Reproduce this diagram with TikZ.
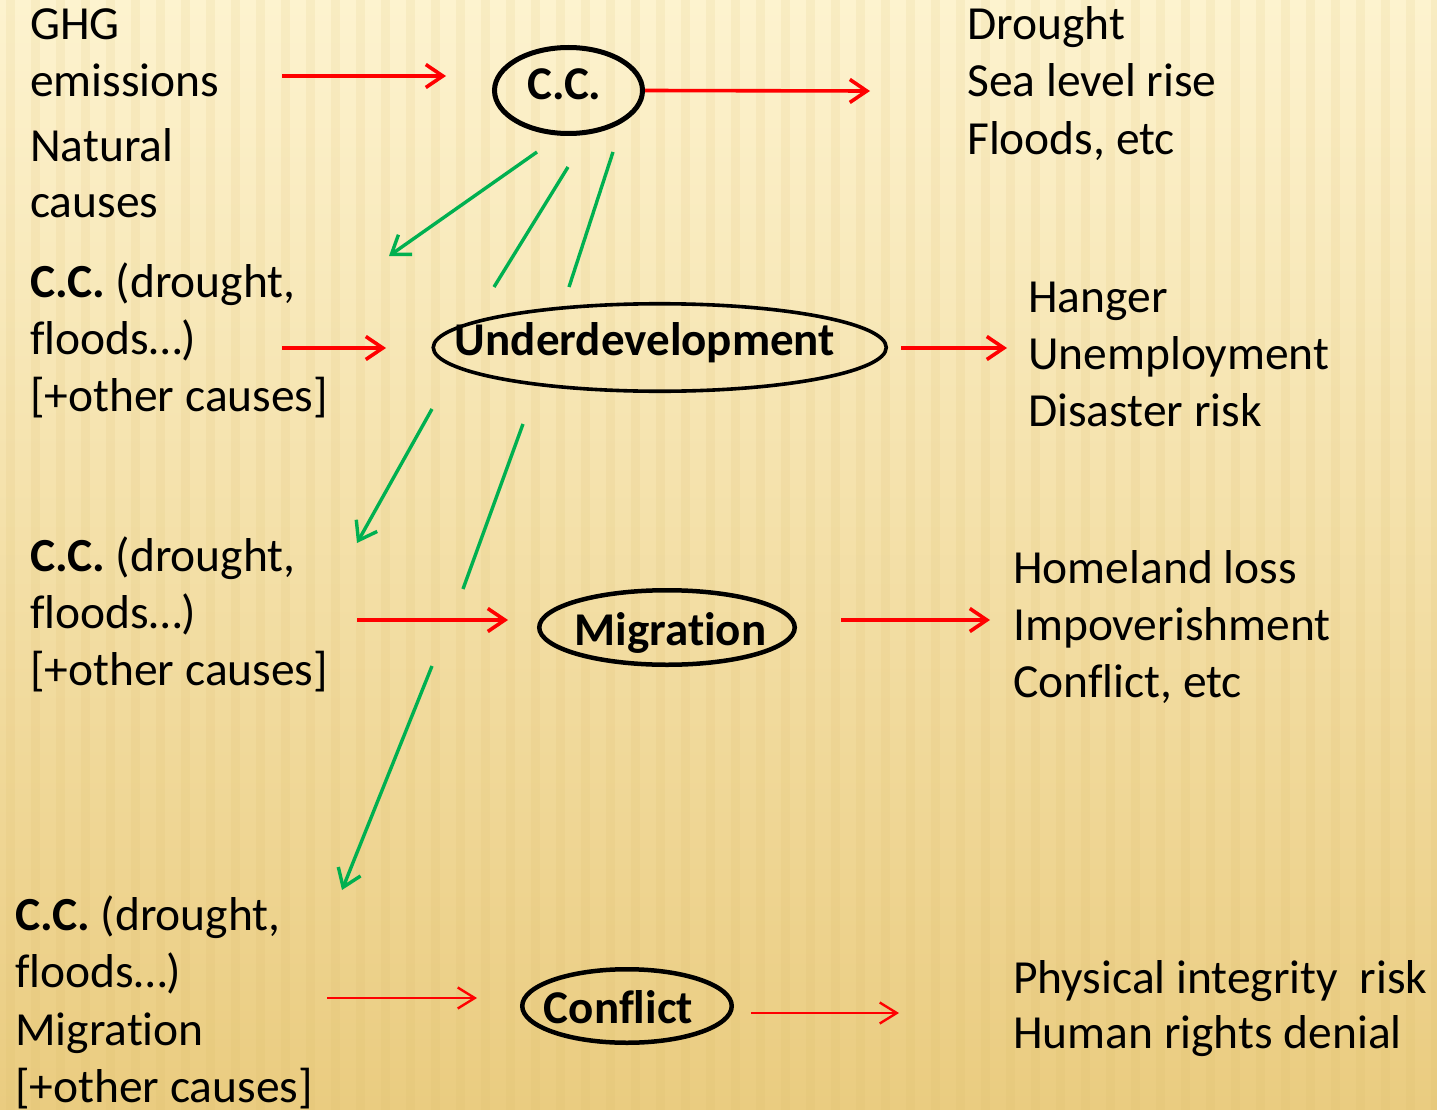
\documentclass[tikz,border=0pt]{standalone}
\usepackage{fontspec}
\setmainfont{Carlito}[Ligatures=NoCommon]
\usetikzlibrary{arrows.meta,shapes.geometric}
\definecolor{redarr}{RGB}{255,0,0}
\definecolor{grnarr}{RGB}{0,176,80}
\definecolor{bgtop}{RGB}{253,243,207}
\definecolor{bgmid}{RGB}{249,233,182}
\definecolor{bgbot}{RGB}{234,204,128}
\definecolor{stripe}{RGB}{215,180,95}
\begin{document}
\begin{tikzpicture}[x=1pt,y=-1pt,
  txt/.style={anchor=base west, inner sep=0pt, font=\fontsize{47.5}{57}\selectfont},
  ell/.style={draw=black, ellipse, inner sep=0pt, text depth=0pt, font=\bfseries\fontsize{47}{57}\selectfont},
  redarrow/.style={draw=redarr, line width=3.6pt, -{Straight Barb[length=17pt,width=23pt]}},
  thinred/.style={draw=redarr, line width=2.4pt, -{Straight Barb[length=17pt,width=21pt]}},
  grnline/.style={draw=grnarr, line width=3.4pt},
  grnarrow/.style={grnline, -{Straight Barb[length=17pt,width=24pt]}}]
% background
\useasboundingbox (0,0) rectangle (1437,1110);
\shade[top color=bgtop, middle color=bgmid, bottom color=bgbot] (0,0) rectangle (1437,1110);
\foreach \i in {0,...,58} \fill[stripe, opacity=0.11] ({\i*25+6},0) rectangle ++(9,1110);

% ellipse nodes
\node[ell, minimum width=148pt, minimum height=86pt, line width=5pt, text height=19pt] (cc) at (568.5,90.5) {\makebox[0pt]{C.C.\hspace*{8pt}}};
\node[ell, minimum width=453pt, minimum height=87.5pt, line width=3.6pt, text height=15pt] (ud) at (659.75,347.5) {\makebox[0pt]{Underdevelopment\hspace*{29.5pt}}};
\node[ell, minimum width=255.5pt, minimum height=74.5pt, line width=4.5pt, text height=35pt] (mig) at (667,627.5) {\makebox[0pt]{\hspace*{7pt}Migration}};
\node[ell, minimum width=209.5pt, minimum height=73.5pt, line width=4.5pt, text height=34pt] (con) at (627,1006) {\makebox[0pt]{Conflict\hspace*{17pt}}};

% left texts
\node[txt] (l1a) at (30,40) {GHG};
\node[txt] (l1b) at (30,97) {emissions};
\node[txt] (l2a) at (30,162) {Natural};
\node[txt] (l2b) at (30,218) {causes};
\node[txt] (l3a) at (30,297) {\textbf{C.C.} (drought,};
\node[txt] (l3b) at (30,354) {floods…)};
\node[txt] (l3c) at (30,411) {[+other causes]};
\node[txt] (l4a) at (30,571) {\textbf{C.C.} (drought,};
\node[txt] (l4b) at (30,628) {floods…)};
\node[txt] (l4c) at (30,685) {[+other causes]};
\node[txt] (l5a) at (15,930) {\textbf{C.C.} (drought,};
\node[txt] (l5b) at (15,987) {floods…)};
\node[txt] (l5c) at (15,1045) {Migration};
\node[txt] (l5d) at (15,1102) {[+other causes]};

% right texts
\node[txt] (r1a) at (967,40) {Drought};
\node[txt] (r1b) at (967,97) {Sea level rise};
\node[txt] (r1c) at (967,155) {Floods, etc};
\node[txt] (r2a) at (1028,312) {Hanger};
\node[txt] (r2b) at (1028,369) {Unemployment};
\node[txt] (r2c) at (1028,426) {Disaster risk};
\node[txt] (r3a) at (1013,583) {Homeland loss};
\node[txt] (r3b) at (1013,640) {Impoverishment};
\node[txt] (r3c) at (1013,697) {Conflict, etc};
\node[txt] (r4a) at (1013,993) {Physical integrity\ \ risk};
\node[txt] (r4b) at (1013,1048) {Human rights denial};

% connector end points
\coordinate (a1s) at (282,76);  \coordinate (a1e) at (446,76);
\coordinate (a2e) at (870,91);
\coordinate (a3s) at (282,348); \coordinate (a3e) at (386,348);
\coordinate (a4s) at (901,348); \coordinate (a4e) at (1007,348);
\coordinate (a5s) at (357,620); \coordinate (a5e) at (508,620);
\coordinate (a6s) at (841,620); \coordinate (a6e) at (990,620);
\coordinate (a7s) at (327,998); \coordinate (a7e) at (477,998);
\coordinate (a8s) at (751,1013); \coordinate (a8e) at (899,1013);
\coordinate (g1s) at (537,152); \coordinate (g1e) at (389,256);
\coordinate (g2s) at (568,167); \coordinate (g2e) at (494,287);
\coordinate (g3s) at (613,152); \coordinate (g3e) at (569,287);
\coordinate (g4s) at (432,409); \coordinate (g4e) at (357,543);
\coordinate (g5s) at (523,424); \coordinate (g5e) at (463,589);
\coordinate (g6s) at (432,666); \coordinate (g6e) at (342,890);

% red arrows
\draw[redarrow] (a1s) -- (a1e);
\draw[redarrow] (cc.east) -- (a2e);
\draw[redarrow] (a3s) -- (a3e);
\draw[redarrow] (a4s) -- (a4e);
\draw[redarrow] (a5s) -- (a5e);
\draw[redarrow] (a6s) -- (a6e);
\draw[thinred] (a7s) -- (a7e);
\draw[thinred] (a8s) -- (a8e);

% green lines
\draw[grnarrow] (g1s) -- (g1e);
\draw[grnline] (g2s) -- (g2e);
\draw[grnline] (g3s) -- (g3e);
\draw[grnarrow] (g4s) -- (g4e);
\draw[grnline] (g5s) -- (g5e);
\draw[grnarrow] (g6s) -- (g6e);
\end{tikzpicture}
\end{document}
